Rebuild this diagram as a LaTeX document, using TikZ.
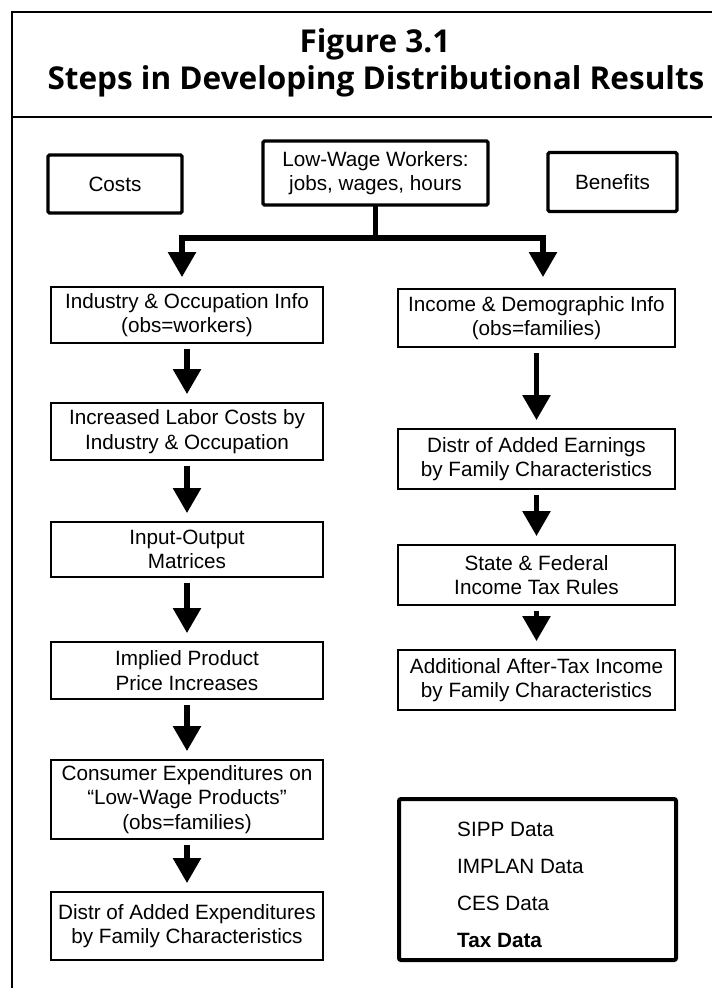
\documentclass[tikz,border=0pt]{standalone}
\usepackage{fontspec}
\setmainfont{Liberation Sans}
\newfontfamily\titlefont{Open Sans}
\usetikzlibrary{arrows.meta}
\begin{document}
\begin{tikzpicture}[x=1pt,y=-1pt,
  txt/.style={font=\fontsize{20.7}{24.5}\selectfont},
  box/.style={draw, line width=1.8pt, align=center, inner sep=0pt, txt},
  lbox/.style={box, minimum width=272pt},
  rbox/.style={box, minimum width=277pt},
  topbox/.style={box, line width=3.2pt, rounded corners=1.5pt},
  legendbox/.style={draw, line width=4pt, rounded corners=2pt, inner sep=0pt, minimum width=277pt, minimum height=161pt},
  legtext/.style={txt, anchor=west, inner sep=0pt},
  title/.style={font=\titlefont\bfseries\fontsize{31.5}{36}\selectfont, inner sep=0pt},
  frameline/.style={line width=1.5pt},
  arr/.style={line width=5.5pt, line join=miter, -{Triangle[width=27pt,length=25pt]}},
  stem/.style={line width=5.5pt},
  colarr/.style={arr, shorten <=5pt, shorten >=8pt}
]
\useasboundingbox (0,0) rectangle (712,988);
% frame
\draw[frameline] (712,12) -- (12,12) -- (12,988);
\draw[frameline] (12,117) -- (712,117);
% title
\node[title] (t1) at (375,44) {Figure 3.1};
\node[title] (t2) at (376,81) {Steps in Developing Distributional Results};
% top row
\node[topbox, minimum width=134pt, minimum height=58pt] (costs) at (115,184) {Costs};
\node[topbox, minimum width=225pt, minimum height=64pt] (lw) at (375.5,173) {Low-Wage Workers:\\jobs, wages, hours};
\node[topbox, minimum width=129pt, minimum height=59pt] (ben) at (612.5,182) {Benefits};
% left column
\node[lbox, minimum height=56pt] (b1) at (187,315) {Industry \& Occupation Info\\(obs=workers)};
\node[lbox, minimum height=57pt] (b2) at (187,431.5) {Increased Labor Costs by\\Industry \& Occupation};
\node[lbox, minimum height=55pt] (b3) at (187,549.5) {Input-Output\\Matrices};
\node[lbox, minimum height=57pt] (b4) at (187,670.5) {Implied Product\\Price Increases};
\node[lbox, minimum height=79pt] (b5) at (187,799.5) {Consumer Expenditures on\\``Low-Wage Products''\\(obs=families)};
\node[lbox, minimum height=68pt] (b6) at (187,926) {Distr of Added Expenditures\\by Family Characteristics};
% right column
\node[rbox, minimum height=58pt] (r1) at (536.5,318) {Income \& Demographic Info\\(obs=families)};
\node[rbox, minimum height=60pt] (r2) at (536.5,459) {Distr of Added Earnings\\by Family Characteristics};
\node[rbox, minimum height=60pt] (r3) at (536.5,575) {State \& Federal\\Income Tax Rules};
\node[rbox, minimum height=60pt] (r4) at (536.5,680) {Additional After-Tax Income\\by Family Characteristics};
% legend
\node[legendbox] (leg) at (537.5,879.5) {};
\node[legtext] (l1) at (457,829) {SIPP Data};
\node[legtext] (l2) at (457,866) {IMPLAN Data};
\node[legtext] (l3) at (457,903) {CES Data};
\node[legtext, font=\bfseries\fontsize{20.7}{24.5}\selectfont] (l4) at (457,940) {Tax Data};
% split connector
\coordinate (j) at (375.5,238);
\draw[stem] ([yshift=2pt]lw.south) -- (j);
\draw[arr, shorten >=9pt] (j) -| ([xshift=-5pt]b1.north);
\draw[arr, shorten >=11pt] (j) -| ([xshift=6.5pt]r1.north);
% column arrows
\draw[colarr] (b1) -- (b2);
\draw[colarr] (b2) -- (b3);
\draw[colarr] (b3) -- (b4);
\draw[colarr] (b4) -- (b5);
\draw[colarr] (b5) -- (b6);
\draw[colarr] (r1) -- (r2);
\draw[colarr] (r2) -- (r3);
\draw[colarr] (r3) -- (r4);
\end{tikzpicture}
\end{document}
